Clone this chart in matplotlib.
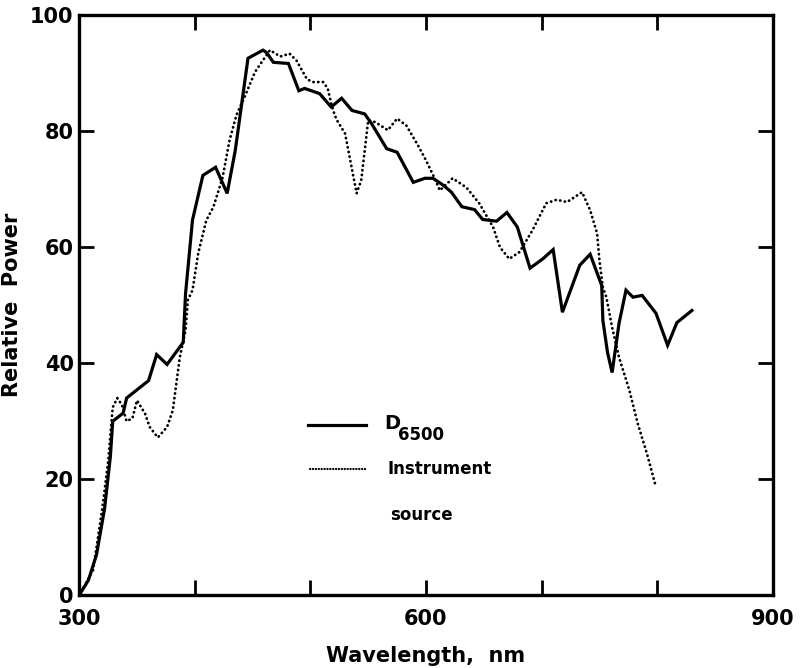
import numpy as np
import matplotlib
matplotlib.use('Agg')
import matplotlib.pyplot as plt

# D6500 spectral power (solid curve)
d65_nm = [300, 308, 315, 322, 327, 329, 338, 341, 360, 367, 376, 390, 392, 398, 407, 418,
          428, 435, 446, 459, 462, 468, 481, 490, 495, 508, 518, 527, 536, 547, 553, 566,
          575, 589, 599, 606, 615, 622, 631, 642, 649, 661, 670, 679, 690, 701, 710, 718,
          733, 742, 752, 753, 757, 761, 767, 773, 779, 787, 799, 809, 817, 830]
d65_pow = [0, 2.6, 7, 15, 24, 30, 31.4, 34, 37, 41.5, 39.8, 43.6, 52, 64.7, 72.4, 73.8,
           69.3, 76.7, 92.6, 94, 93.6, 91.9, 91.7, 87, 87.4, 86.5, 84.2, 85.7, 83.6, 83, 81.3, 77,
           76.4, 71.2, 71.9, 71.9, 70.7, 69.5, 67, 66.5, 64.8, 64.5, 66, 63.5, 56.4, 58, 59.6, 48.8,
           56.9, 58.8, 53.4, 47.4, 41.9, 38.4, 46.9, 52.6, 51.4, 51.7, 48.6, 43.1, 47, 49.1]

# instrument source (dotted curve)
src_nm = [300, 312, 320, 325, 329, 333, 337, 341, 346, 350, 357, 361, 368, 376, 381, 387,
          392, 394, 398, 403, 410, 416, 424, 430, 436, 443, 452, 456, 465, 474, 482, 488,
          497, 502, 511, 515, 518, 521, 523, 530, 534, 540, 544, 547, 550, 556, 567, 575,
          583, 593, 600, 607, 612, 623, 635, 646, 658, 664, 672, 681, 692, 704, 713, 722,
          735, 742, 748, 750, 753, 756, 761, 767, 776, 783, 791, 799]
src_pow = [0, 4.3, 15, 23, 32.4, 34, 32.8, 30, 30.5, 33.6, 31.3, 29, 27.2, 29, 31.9, 41,
           45.7, 50.9, 52.6, 59, 64.7, 66.9, 72, 78.4, 82.8, 85.9, 90.2, 91.4, 94, 92.9, 93.4, 92.2,
           89, 88.5, 88.5, 87.4, 84.8, 82.8, 81.9, 79.6, 75.5, 69.3, 71.6, 76.7, 81.9, 81.6, 80.2, 82.2,
           81, 77.6, 75, 72.1, 69.8, 71.9, 70.3, 67.6, 63.5, 60, 58, 59.2, 62.9, 67.6, 68.2, 67.8,
           69.5, 66.4, 62.4, 57.8, 53.1, 51.4, 46.2, 41, 35.3, 29.7, 24.5, 18.6]

x_ticks = [300, 400, 500, 600, 700, 800, 900]
x_labels = ['300', '', '', '600', '', '', '900']
y_ticks = [0, 20, 40, 60, 80, 100]

plt.rcParams['font.family'] = 'DejaVu Sans'
plt.rcParams['font.weight'] = 'bold'

fig = plt.figure(figsize=(8, 6.68), dpi=100)
ax = fig.add_axes([0.099, 0.109, 0.867, 0.868])

dots = (0, (0.1, 1.6))
ax.plot(d65_nm, d65_pow, color='black', lw=2.3, solid_joinstyle='miter')
ax.plot(src_nm, src_pow, color='black', lw=2.0, linestyle=dots, dash_capstyle='round')

ax.set_xlim(300, 900)
ax.set_ylim(0, 100)
ax.set_xticks(x_ticks)
ax.set_xticklabels(x_labels)
ax.set_yticks(y_ticks)
ax.tick_params(direction='in', length=11, width=2, top=True, right=True,
               labelsize=15, pad=10)
ax.tick_params(axis='y', pad=4)
for s in ax.spines.values():
    s.set_linewidth(2.4)

ax.set_xlabel('Wavelength,  nm', fontsize=15, fontweight='bold', labelpad=12)
ax.set_ylabel('Relative  Power', fontsize=15, fontweight='bold')
ax.yaxis.set_label_coords(-0.082, 0.5)

# legend drawn by hand, like the original figure
ax.plot([498, 548], [29.3, 29.3], color='black', lw=2.3)
ax.text(564, 29.6, 'D', fontsize=14, fontweight='bold', va='center')
ax.text(575.5, 27.6, '6500', fontsize=12, fontweight='bold', va='center')
ax.plot([500, 549], [21.7, 21.7], color='black', lw=1.6, linestyle=(0, (0.1, 1.2)),
        dash_capstyle='round')
ax.text(567, 21.7, 'Instrument', fontsize=12, fontweight='bold', va='center')
ax.text(569, 13.8, 'source', fontsize=12, fontweight='bold', va='center')

fig.savefig('out.png', dpi=100)
